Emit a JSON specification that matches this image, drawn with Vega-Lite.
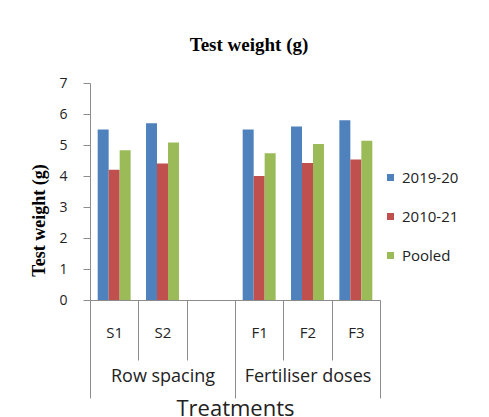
{
  "$schema": "https://vega.github.io/schema/vega-lite/v6.json",
  "autosize": {"type": "none"},
  "padding": {"left": 90, "top": 83, "right": 109, "bottom": 117},
  "width": 290,
  "height": 217,
  "background": "white",
  "title": {
    "text": "Test weight (g)",
    "font": "Liberation Serif",
    "fontSize": 19,
    "fontWeight": "bold",
    "color": "black",
    "anchor": "middle",
    "frame": "group",
    "dx": 14,
    "offset": 21
  },
  "config": {
    "view": {"stroke": null},
    "axis": {"grid": false, "domainColor": "#8c8c8c", "tickColor": "#8c8c8c", "labelColor": "#222", "labelFont": "Open Sans"}
  },
  "layer": [
    {
      "data": {
        "values": [
          {"treatment": "S1", "series": "2019-20", "value": 5.5},
          {"treatment": "S1", "series": "2010-21", "value": 4.2},
          {"treatment": "S1", "series": "Pooled", "value": 4.83},
          {"treatment": "S2", "series": "2019-20", "value": 5.7},
          {"treatment": "S2", "series": "2010-21", "value": 4.4},
          {"treatment": "S2", "series": "Pooled", "value": 5.08},
          {"treatment": "F1", "series": "2019-20", "value": 5.5},
          {"treatment": "F1", "series": "2010-21", "value": 4.0},
          {"treatment": "F1", "series": "Pooled", "value": 4.73},
          {"treatment": "F2", "series": "2019-20", "value": 5.6},
          {"treatment": "F2", "series": "2010-21", "value": 4.42},
          {"treatment": "F2", "series": "Pooled", "value": 5.03},
          {"treatment": "F3", "series": "2019-20", "value": 5.8},
          {"treatment": "F3", "series": "2010-21", "value": 4.53},
          {"treatment": "F3", "series": "Pooled", "value": 5.14}
        ]
      },
      "mark": {"type": "bar"},
      "encoding": {
        "x": {
          "field": "treatment",
          "type": "nominal",
          "scale": {"domain": ["S1", "S2", " ", "F1", "F2", "F3"], "paddingInner": 0, "paddingOuter": 0},
          "axis": {
            "orient": "bottom",
            "title": null,
            "labelAngle": 0,
            "tickBand": "extent",
            "tickSize": 60,
            "labelPadding": -35,
            "labelFontSize": 15,
            "labelBaseline": "top"
          }
        },
        "xOffset": {
          "field": "series",
          "type": "nominal",
          "scale": {"domain": ["2019-20", "2010-21", "Pooled"], "paddingInner": 0, "paddingOuter": 0.7}
        },
        "y": {
          "field": "value",
          "type": "quantitative",
          "scale": {"domain": [0, 7]},
          "axis": {
            "title": "Test weight (g)",
            "titleFont": "Liberation Serif",
            "titleFontSize": 18,
            "titleFontWeight": "bold",
            "titleColor": "black",
            "titlePadding": 10,
            "titleY": 137,
            "tickCount": 7,
            "tickSize": 7,
            "labelPadding": 16,
            "labelFontSize": 14
          }
        },
        "color": {
          "field": "series",
          "type": "nominal",
          "scale": {"domain": ["2019-20", "2010-21", "Pooled"], "range": ["#4F81BD", "#C0504D", "#9BBB59"]},
          "legend": {
            "title": null,
            "orient": "none",
            "legendX": 293,
            "legendY": 87,
            "symbolType": "square",
            "symbolSize": 49,
            "symbolStrokeWidth": 0,
            "symbolOpacity": 1,
            "labelFont": "Open Sans",
            "labelFontSize": 15,
            "labelColor": "#222",
            "labelOffset": 4,
            "rowPadding": 23
          }
        }
      }
    },
    {
      "data": {
        "values": [
          {"group": "Row spacing"},
          {"group": "Fertiliser doses"}
        ]
      },
      "mark": {"type": "bar", "opacity": 0},
      "encoding": {
        "x": {
          "field": "group",
          "type": "nominal",
          "scale": {"domain": ["Row spacing", "Fertiliser doses"], "paddingInner": 0, "paddingOuter": 0},
          "axis": {
            "orient": "bottom",
            "title": "Treatments",
            "titleFont": "Open Sans",
            "titleFontSize": 22,
            "titleFontWeight": "normal",
            "titleColor": "#222",
            "titlePadding": 0,
            "labelAngle": 0,
            "domain": false,
            "tickBand": "extent",
            "tickSize": 98,
            "labelPadding": -31,
            "labelFontSize": 18,
            "labelBaseline": "top"
          }
        },
        "y": {"datum": 0, "type": "quantitative"}
      }
    }
  ],
  "resolve": {"scale": {"x": "independent"}, "axis": {"x": "independent"}}
}
